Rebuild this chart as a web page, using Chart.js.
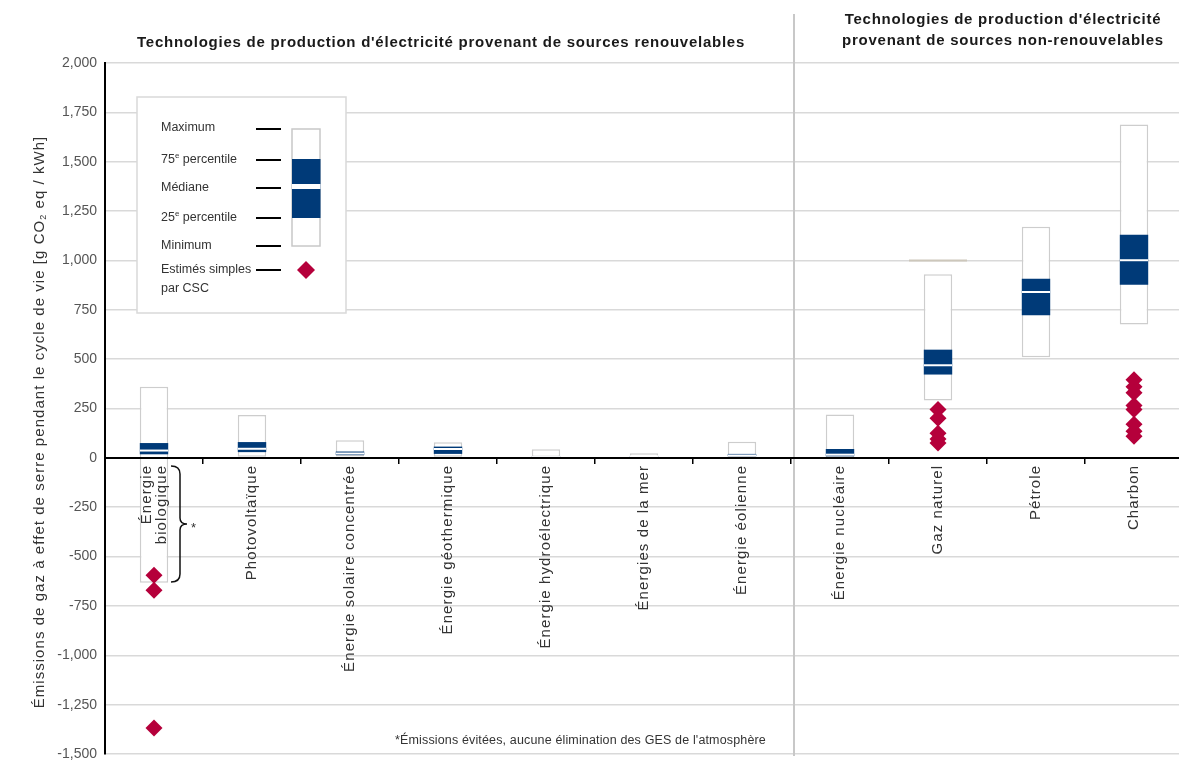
<!DOCTYPE html>
<html><head><meta charset="utf-8">
<script src="https://cdn.jsdelivr.net/npm/chart.js@4.4.1/dist/chart.umd.min.js"></script>
<style>html,body{margin:0;padding:0;background:#fff;}#wrap{position:relative;width:1179px;height:763px;}canvas{display:block;}</style>
</head><body><div id="wrap"><canvas id="c" width="1179" height="763"></canvas></div>
<script>
// ---- data ----
const categories = ['Énergie biologique', 'Photovoltaïque', 'Énergie solaire concentrée', 'Énergie géothermique',
  'Énergie hydroélectrique', 'Énergies de la mer', 'Énergie éolienne', 'Énergie nucléaire', 'Gaz naturel', 'Pétrole', 'Charbon'];
const categoryLines = [['Énergie', 'biologique']];
const minVals    = [-633, 5, 7, 6, 0, 2, 2, 1, 290, 510, 675];
const q1Vals     = [18, 29, 14, 20, 3, 6, 8, 8, 422, 722, 877];
const medianVals = [37, 46, 22, 45, 4, 8, 12, 16, 469, 840, 1001];
const q3Vals     = [75, 80, 32, 57, 7, 9, 20, 45, 548, 907, 1130];
const maxVals    = [360, 217, 89, 79, 43, 23, 81, 220, 930, 1170, 1689];
const ccsBio  = [-594, -670, -1368];
const ccsGas  = [245, 200, 125, 95, 75];
const ccsCoal = [396, 360, 330, 265, 245, 170, 135, 110];
const gasMarker = [1000];
const yMin = -1500, yMax = 2000, yStep = 250;

const FONT = "'Liberation Sans', Arial, Helvetica, sans-serif";
Chart.defaults.font.family = FONT;

const ccsPoints = [
  ...ccsBio.map(v => ({x: categories[0], y: v})),
  ...ccsGas.map(v => ({x: categories[8], y: v})),
  ...ccsCoal.map(v => ({x: categories[10], y: v}))
];

function richText(ctx, parts, x, y, align) {
  const base = ctx.font;
  let total = 0;
  const widths = parts.map(p => {
    ctx.font = p.small ? p.font : base;
    const w = ctx.measureText(p.t).width; total += w; return w;
  });
  let cx = align === 'center' ? x - total / 2 : x;
  parts.forEach((p, i) => {
    ctx.font = p.small ? p.font : base;
    ctx.textAlign = 'left';
    ctx.fillText(p.t, cx, y + (p.dy || 0));
    cx += widths[i];
  });
  ctx.font = base;
}

const annot = {
  id: 'annot',
  afterLayout(chart) {
    // the category band runs slightly past the right edge of the canvas in the original
    const x = chart.scales.x;
    x.right = x.left + 1078;
    x.width = 1078;
    x.configure();
  },
  beforeDatasetsDraw(chart) {
    const {ctx, scales: {x}} = chart;
    const xs = (x.getPixelForValue(6) + x.getPixelForValue(7)) / 2 + 3;
    ctx.save();
    ctx.strokeStyle = '#c8c8c8'; ctx.lineWidth = 2;
    ctx.beginPath(); ctx.moveTo(xs, 14); ctx.lineTo(xs, 756); ctx.stroke();
    ctx.restore();
  },
  afterDraw(chart) {
    const {ctx, scales: {x, y}} = chart;
    ctx.save();
    ctx.fillStyle = '#1a1a1a';
    ctx.textBaseline = 'middle';

    // category labels, rotated, hanging below the zero line
    const y0 = y.getPixelForValue(0) + 7;
    ctx.font = '15px ' + FONT;
    ctx.fillStyle = '#333';
    ctx.letterSpacing = '1.1px';
    categories.forEach((c, i) => {
      const cx = x.getPixelForValue(i);
      const lines = i === 0 ? categoryLines[0] : [c];
      const lh = 15;
      lines.forEach((ln, k) => {
        const off = (k - (lines.length - 1) / 2) * lh;
        ctx.save();
        ctx.translate(cx + off, y0);
        ctx.rotate(-Math.PI / 2);
        ctx.textAlign = 'right';
        ctx.textBaseline = 'middle';
        ctx.fillText(ln, 0, 0);
        ctx.restore();
      });
    });

    // section titles
    ctx.fillStyle = '#1a1a1a';
    ctx.font = 'bold 15px ' + FONT;
    ctx.letterSpacing = '0.75px';
    ctx.textAlign = 'center';
    ctx.fillText("Technologies de production d'électricité provenant de sources renouvelables", 441, 43);
    ctx.fillText("Technologies de production d'électricité", 1003, 20);
    ctx.fillText("provenant de sources non-renouvelables", 1003, 41);

    // y axis title
    ctx.save();
    ctx.translate(40, 422);
    ctx.rotate(-Math.PI / 2);
    ctx.font = '15px ' + FONT;
    ctx.letterSpacing = '1.05px';
    ctx.fillStyle = '#333';
    richText(ctx, [
      {t: 'Émissions de gaz à effet de serre pendant le cycle de vie [g CO'},
      {t: '2', small: true, font: '9px ' + FONT, dy: 4},
      {t: ' eq / kWh]'}
    ], 0, 0, 'center');
    ctx.restore();

    // legend box
    ctx.letterSpacing = '0px';
    ctx.fillStyle = '#fff';
    ctx.strokeStyle = '#d9d9d9'; ctx.lineWidth = 1.5;
    ctx.fillRect(137, 97, 209, 216);
    ctx.strokeRect(137, 97, 209, 216);
    ctx.fillStyle = '#333';
    ctx.font = '12.5px ' + FONT;
    ctx.textAlign = 'left';
    const sup = {small: true, font: '8px ' + FONT, dy: -4};
    ctx.fillText('Maximum', 161, 128);
    richText(ctx, [{t: '75'}, Object.assign({t: 'e'}, sup), {t: ' percentile'}], 161, 160, 'left');
    ctx.fillText('Médiane', 161, 188);
    richText(ctx, [{t: '25'}, Object.assign({t: 'e'}, sup), {t: ' percentile'}], 161, 218, 'left');
    ctx.fillText('Minimum', 161, 246);
    ctx.fillText('Estimés simples', 161, 270);
    ctx.fillText('par CSC', 161, 289);
    ctx.strokeStyle = '#000'; ctx.lineWidth = 2;
    [129, 160, 188, 218, 246, 270].forEach(yy => {
      ctx.beginPath(); ctx.moveTo(256, yy); ctx.lineTo(281, yy); ctx.stroke();
    });
    // legend sample box
    ctx.fillStyle = '#fff'; ctx.strokeStyle = '#c8c8c8'; ctx.lineWidth = 1.5;
    ctx.fillRect(292, 129, 28, 117); ctx.strokeRect(292, 129, 28, 117);
    ctx.fillStyle = '#003a78'; ctx.fillRect(292, 159, 28.5, 59);
    ctx.fillStyle = '#fff'; ctx.fillRect(292, 184, 28.5, 5);
    ctx.fillStyle = '#b5003b';
    ctx.beginPath(); ctx.moveTo(297, 270); ctx.lineTo(306, 261); ctx.lineTo(315, 270); ctx.lineTo(306, 279); ctx.closePath(); ctx.fill();

    // brace for biologique
    ctx.strokeStyle = '#111'; ctx.lineWidth = 1.5;
    const bx = 180, top = 466, bot = 582, mid = 524;
    ctx.beginPath();
    ctx.moveTo(171, top);
    ctx.quadraticCurveTo(bx, top, bx, top + 8);
    ctx.lineTo(bx, mid - 6);
    ctx.quadraticCurveTo(bx, mid, bx + 7, mid);
    ctx.quadraticCurveTo(bx, mid, bx, mid + 6);
    ctx.lineTo(bx, bot - 8);
    ctx.quadraticCurveTo(bx, bot, 171, bot);
    ctx.stroke();
    ctx.fillStyle = '#333';
    ctx.font = '13px ' + FONT;
    ctx.textAlign = 'left';
    ctx.fillText('*', 191, 528);

    // footnote
    ctx.font = '12.5px ' + FONT;
    ctx.letterSpacing = '0.15px';
    ctx.fillText("*Émissions évitées, aucune élimination des GES de l'atmosphère", 395, 741);
    ctx.restore();
  }
};

const barCommon = {grouped: false, barPercentage: 0.29, categoryPercentage: 1};

new Chart(document.getElementById('c'), {
  type: 'bar',
  data: {
    labels: categories,
    datasets: [
      Object.assign({type: 'bar', label: 'Plage', order: 5,
        data: categories.map((c, i) => [minVals[i], maxVals[i]]),
        backgroundColor: '#ffffff', borderColor: '#cdcdcd', borderWidth: 1.5, borderSkipped: false}, barCommon),
      Object.assign({type: 'bar', label: 'Interquartile', order: 4,
        data: categories.map((c, i) => [q1Vals[i], q3Vals[i]]),
        backgroundColor: '#003a78', borderWidth: 0}, barCommon),
      {type: 'line', label: 'Médiane', order: 3, data: medianVals, showLine: false,
        pointStyle: 'line', pointRadius: 14, pointBorderColor: '#ffffff', pointBorderWidth: 2, borderColor: '#ffffff'},
      {type: 'line', label: 'Repère', order: 2, data: gasMarker.map(v => ({x: categories[8], y: v})), showLine: false,
        pointStyle: 'line', pointRadius: 29, pointBorderColor: '#cdc7bb', pointBorderWidth: 2, borderColor: '#cdc7bb'},
      {type: 'line', label: 'Estimés simples par CSC', order: 1, data: ccsPoints, showLine: false,
        pointStyle: 'rectRot', pointRadius: 8.5, pointBackgroundColor: '#b5003b', pointBorderColor: '#b5003b', pointBorderWidth: 0}
    ]
  },
  options: {
    responsive: false,
    animation: false,
    events: [],
    layout: {autoPadding: false, padding: {top: 63, bottom: 9, left: 0, right: 0}},
    plugins: {legend: {display: false}, tooltip: {enabled: false}, title: {display: false}},
    scales: {
      x: {
        type: 'category',
        position: {y: 0},
        offset: true,
        grid: {display: true, drawOnChartArea: false, drawTicks: true, tickLength: 5, color: '#000', lineWidth: 1.5, offset: true},
        border: {display: true, color: '#000', width: 2, z: 1},
        ticks: {display: false},
        afterFit(s) { s.paddingLeft = 0; s.paddingRight = 0; s.paddingTop = 0; s.paddingBottom = 0; }
      },
      y: {
        min: yMin, max: yMax,
        ticks: {stepSize: yStep, color: '#555', font: {size: 14, family: FONT}, padding: 8},
        grid: {color: '#d9d9d9', lineWidth: 1.5, drawTicks: false},
        border: {display: true, color: '#000', width: 2},
        afterFit(s) { s.width = 105; s.paddingTop = 0; s.paddingBottom = 0; }
      }
    }
  },
  plugins: [annot]
});
</script></body></html>
